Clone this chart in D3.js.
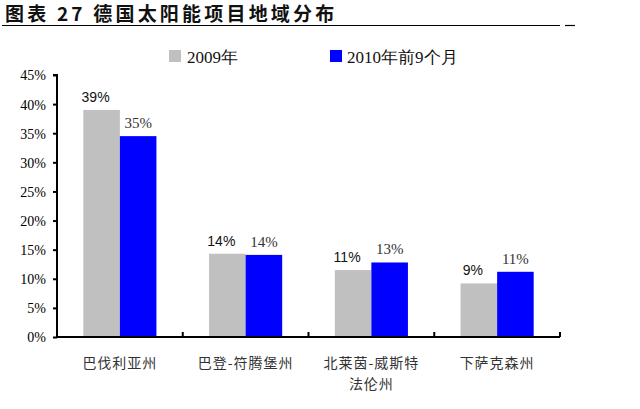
<!DOCTYPE html>
<html><head><meta charset="utf-8">
<script src="https://cdn.jsdelivr.net/npm/d3@7/dist/d3.min.js"></script>
<style>body{margin:0;background:#fff}svg{display:block}</style>
</head><body><svg id="c" width="640" height="409"></svg>
<script>
const categories = [["巴伐利亚州"], ["巴登-符腾堡州"], ["北莱茵-威斯特", "法伦州"], ["下萨克森州"]];
const seriesNames = ["2009年", "2010年前9个月"];
const values2009 = [39.0, 14.3, 11.5, 9.2];
const values2010 = [34.5, 14.1, 12.8, 11.2];
const labels2009 = ["39%", "14%", "11%", "9%"];
const labels2010 = ["35%", "14%", "13%", "11%"];
const yTicks = [0, 5, 10, 15, 20, 25, 30, 35, 40, 45];
const colors = ["#c0c0c0", "#0000ff"];

const svg = d3.select("#c");
const serif = "'Liberation Serif','Times New Roman',serif";
const cjk = "'Noto Sans CJK SC',sans-serif";

// title
svg.append("text").attr("x", 5).attr("y", 21).attr("font-family", "'Noto Sans CJK SC',sans-serif")
  .attr("font-size", 19).attr("font-weight", "bold").attr("fill", "#111").attr("letter-spacing", 3.2)
  .text("图表 27 德国太阳能项目地域分布");
svg.append("line").attr("x1", 2).attr("x2", 560).attr("y1", 25.5).attr("y2", 25.5).attr("stroke", "#000").attr("stroke-width", 1.2);
svg.append("line").attr("x1", 565).attr("x2", 575).attr("y1", 25.5).attr("y2", 25.5).attr("stroke", "#000").attr("stroke-width", 1.2);

const x0 = d3.scaleBand().domain(d3.range(categories.length)).range([57, 560]).paddingInner(0).paddingOuter(0);
const x1 = d3.scaleBand().domain([0, 1]).range([0, x0.bandwidth()]).paddingOuter(0.72).paddingInner(0);
const y = d3.scaleLinear().domain([0, 45]).range([337, 75]);

// y axis
const yAxis = d3.axisLeft(y).tickValues(yTicks).tickSize(4).tickFormat(d => d + "%");
const ga = svg.append("g").attr("transform", "translate(57,0)").call(yAxis);
ga.select(".domain").attr("stroke", "#000").attr("stroke-width", 2).attr("d", "M-4,75H0V337");
ga.selectAll(".tick line").attr("stroke", "#000").attr("stroke-width", 2);
ga.selectAll(".tick text").attr("font-family", serif).attr("font-size", 14).attr("fill", "#000").attr("x", -11).attr("dy", "0.35em");

// bars
const series = [values2009, values2010];
const lbls = [labels2009, labels2010];
series.forEach((vals, s) => {
  svg.append("g").selectAll("rect").data(vals).join("rect")
    .attr("x", (d, i) => x0(i) + x1(s))
    .attr("y", d => y(d))
    .attr("width", x1.bandwidth())
    .attr("height", d => y(0) - y(d))
    .attr("fill", colors[s]);
  svg.append("g").selectAll("text").data(vals).join("text")
    .attr("x", (d, i) => x0(i) + x1(s) + x1.bandwidth() / 2 - (s === 0 ? 6 : 0))
    .attr("y", d => y(d) - 8)
    .attr("text-anchor", "middle")
    .attr("font-family", s === 0 ? "'Liberation Sans',Arial,sans-serif" : serif)
    .attr("font-size", s === 0 ? 14 : 15)
    .attr("fill", s === 0 ? "#111" : "#333")
    .text((d, i) => lbls[s][i]);
});

// x axis
const xb = svg.append("g");
xb.append("line").attr("x1", 56).attr("x2", 560).attr("y1", 337).attr("y2", 337).attr("stroke", "#000").attr("stroke-width", 2);
const ticksX = d3.range(categories.length + 1).map(i => i < categories.length ? x0(i) : x0(categories.length - 1) + x0.bandwidth());
xb.selectAll("line.t").data(ticksX).join("line").attr("class", "t")
  .attr("x1", d => d).attr("x2", d => d).attr("y1", 337).attr("y2", 332).attr("stroke", "#000").attr("stroke-width", 2);
categories.forEach((lines, i) => {
  const t = svg.append("text").attr("text-anchor", "middle").attr("font-family", cjk).attr("font-size", 14).attr("fill", "#333").attr("letter-spacing", 1);
  lines.forEach((ln, j) => t.append("tspan").attr("x", x0(i) + x0.bandwidth() / 2).attr("y", 368 + j * 21).text(ln));
});

// legend
const leg = [[169, 187], [330, 347]];
seriesNames.forEach((n, s) => {
  svg.append("rect").attr("x", leg[s][0]).attr("y", 50).attr("width", 12).attr("height", 12).attr("fill", colors[s]);
  svg.append("text").attr("x", leg[s][1]).attr("y", 62.5).attr("font-family", serif).attr("font-size", 17).attr("fill", "#111").text(n);
});
</script></body></html>
